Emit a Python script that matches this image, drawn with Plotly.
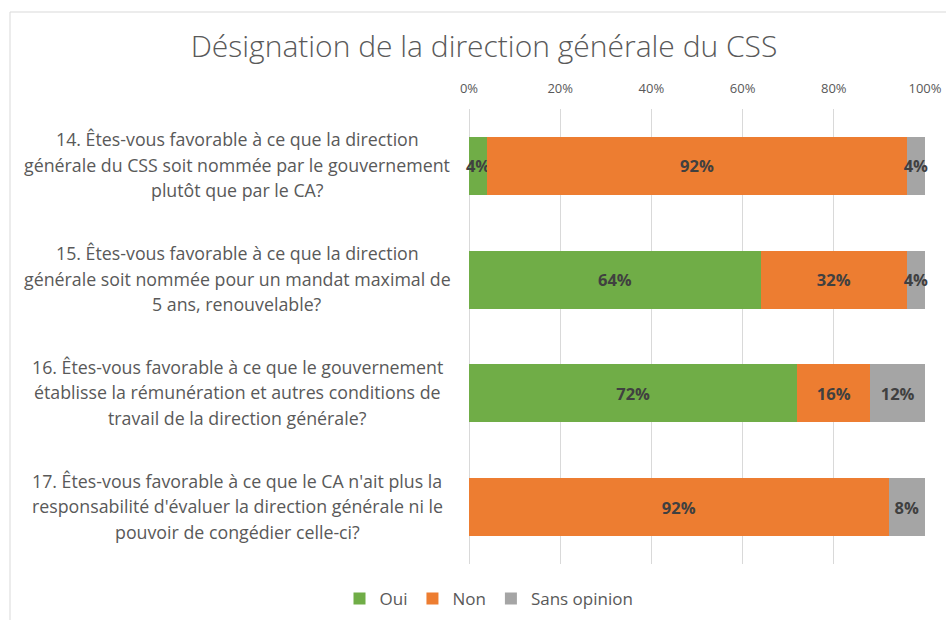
import plotly.graph_objects as go

categories = ["Q14", "Q15", "Q16", "Q17"]
label_lines = [
    ["14. Êtes-vous favorable à ce que la direction",
     "générale du CSS soit nommée par le gouvernement",
     "plutôt que par le CA?"],
    ["15. Êtes-vous favorable à ce que la direction",
     "générale soit nommée pour un mandat maximal de",
     "5 ans, renouvelable?"],
    ["16. Êtes-vous favorable à ce que le gouvernement",
     "établisse la rémunération et autres conditions de",
     "travail de la direction générale?"],
    ["17. Êtes-vous favorable à ce que le CA n'ait plus la",
     "responsabilité d'évaluer la direction générale ni le",
     "pouvoir de congédier celle-ci?"],
]
series_names = ["Oui", "Non", "Sans opinion"]
oui = [4, 64, 72, 0]
non = [92, 32, 16, 92]
sans_opinion = [4, 4, 12, 8]
tick_vals = [0, 20, 40, 60, 80, 100]
tick_text = ["0%", "20%", "40%", "60%", "80%", "100%"]
title_text = "Désignation de la direction générale du CSS"

colors = ["#70AD47", "#ED7D31", "#A5A5A5"]
FONT = "'Open Sans', Lato, sans-serif"

W, H = 946, 620
L, R, T, B = 469, 21, 109, 56
PW, PH = W - L - R, H - T - B

def px_x(px):
    return (px - L) / PW

def px_y(py):
    return (H - B - py) / PH

fig = go.Figure()
for name, vals, col in zip(series_names, [oui, non, sans_opinion], colors):
    fig.add_trace(go.Bar(
        y=categories, x=vals, name=name, orientation="h",
        marker=dict(color=col, line=dict(width=0)),
        text=[f"{v}%" if v > 0 else "" for v in vals],
        textposition="inside", insidetextanchor="middle",
        textangle=0, constraintext="none",
        textfont=dict(family=FONT, size=16.5, color="#404040", weight="bold"),
        cliponaxis=False,
        hoverinfo="skip",
    ))

# Category labels (centered multi-line blocks)
LINE = 25.5
for cat, lines in zip(categories, label_lines):
    n = len(lines)
    for i, line in enumerate(lines):
        fig.add_annotation(
            x=px_x(237), xref="paper", y=cat, yref="y",
            text=line, showarrow=False, xanchor="center", yanchor="middle",
            yshift=(n - 1) / 2 * LINE - i * LINE + 1,
            font=dict(family=FONT, size=17.8, color="#595959"),
        )

# Chart border (Excel-like chart area outline)
fig.add_shape(type="rect", xref="paper", yref="paper",
              x0=px_x(10), x1=px_x(960), y0=px_y(12), y1=px_y(640),
              line=dict(color="#D9D9D9", width=1), layer="below")

fig.update_layout(
    width=W, height=H, autosize=False,
    margin=dict(l=L, r=R, t=T, b=B, autoexpand=False),
    paper_bgcolor="white", plot_bgcolor="white",
    barmode="stack", bargap=0.49,
    title=dict(text=title_text, x=484 / W, xanchor="center",
               y=1 - 46 / H, yanchor="middle", xref="container", yref="container",
               font=dict(family=FONT, size=30, color="#595959", weight=300)),
    xaxis=dict(range=[0, 100], side="top", tickvals=tick_vals, ticktext=tick_text,
               showgrid=True, gridcolor="#D9D9D9", gridwidth=1,
               zeroline=True, zerolinecolor="#D9D9D9", zerolinewidth=1,
               showline=False, ticks="", ticklabelstandoff=12,
               tickfont=dict(family=FONT, size=13, color="#595959"),
               fixedrange=True),
    yaxis=dict(categoryorder="array", categoryarray=categories, autorange="reversed",
               showticklabels=False, showgrid=False, zeroline=False, ticks="",
               fixedrange=True),
    legend=dict(orientation="h", x=px_x(489), xanchor="center",
                y=px_y(599), yanchor="middle",
                font=dict(family=FONT, size=17, color="#595959"),
                itemwidth=30, traceorder="normal"),
    showlegend=True,
)

fig.write_html(
    "out.html",
    config={"displayModeBar": False, "responsive": False},
    post_script="document.body.style.margin='0';document.body.style.overflow='hidden';",
)
